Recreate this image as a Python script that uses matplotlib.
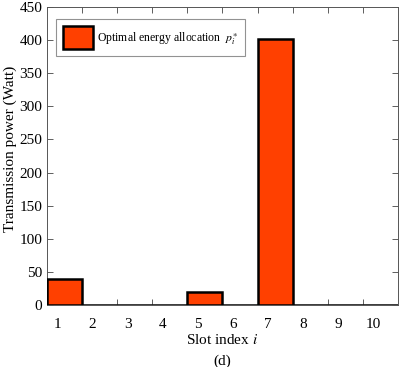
import numpy as np
import matplotlib
matplotlib.use('Agg')
import matplotlib.pyplot as plt

plt.rcParams['font.family'] = ['Liberation Serif', 'DejaVu Serif']
plt.rcParams['mathtext.fontset'] = 'stix'

# 数据
slots = [1, 2, 3, 4, 5, 6, 7, 8, 9, 10]
power = [40, 0, 0, 0, 20, 0, 402, 0, 0, 0]
bar_color = '#FF4000'

fig = plt.figure(figsize=(4.02, 3.67), dpi=100)
ax = fig.add_axes([47 / 402, 62 / 367, 351 / 402, 298 / 367])

ax.bar(np.array(slots) - 1, power, width=1.0, align='edge',
       color=bar_color, edgecolor='black', linewidth=1.8,
       label=r'Optimal energy allocation  $p_i^{\ast}$', zorder=3)

ax.set_xlim(0, 10)
ax.set_ylim(0, 450)
ax.set_yticks(np.arange(0, 451, 50))

# 刻度线在整数处, 标签偏左
ax.set_xticks(np.arange(1, 10), minor=True)
ax.set_xticks(np.array(slots) - 0.7)
ax.set_xticklabels([str(s) for s in slots])
ax.tick_params(axis='x', which='major', length=0, labelsize=11, pad=9)
ax.tick_params(axis='x', which='minor', direction='in', length=4,
               top=True, bottom=True, width=0.6, color='#444444')
ax.tick_params(axis='y', direction='in', length=4, right=True, labelsize=11,
               width=0.6, color='#444444')

for s in ax.spines.values():
    s.set_color('#555555')
    s.set_linewidth(0.7)

fig.text(10 / 402, 1 - 149 / 367, 'Transmission power (Watt)', rotation=90,
         ha='center', va='center', fontsize=11)
ax.set_xlabel('Slot index $i$', fontsize=11, labelpad=2)
fig.text(0.5 * (47 + 398) / 402, 6 / 367, '(d)', ha='center', va='center',
         fontsize=11)

leg = ax.legend(loc='upper left', fontsize=8.5, frameon=True, fancybox=False,
                edgecolor='#777777', handlelength=2.55, handleheight=2.6,
                handletextpad=0.3, borderpad=0.6, borderaxespad=0,
                bbox_to_anchor=(9 / 351, (305 - 19) / 298))
leg.get_frame().set_linewidth(0.8)

fig.savefig('out.png', dpi=100)
